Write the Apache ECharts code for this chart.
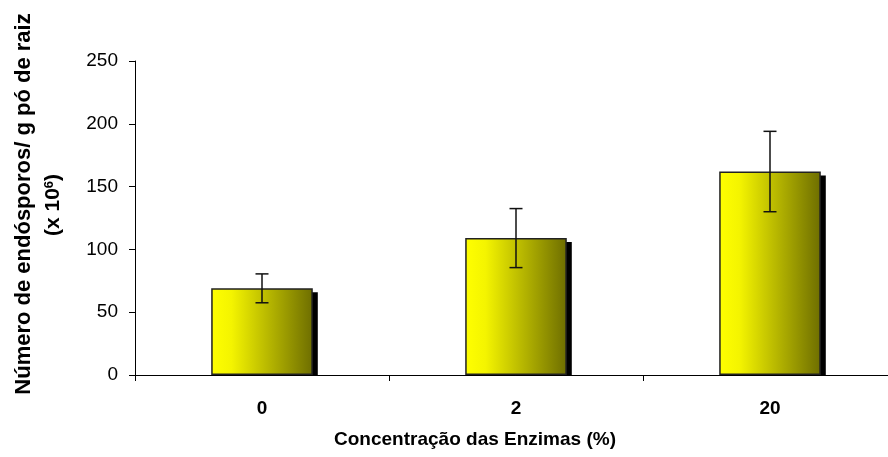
<!DOCTYPE html>
<html>
<head>
<meta charset="utf-8">
<script src="https://cdn.jsdelivr.net/npm/echarts@6/dist/echarts.min.js"></script>
<style>html,body{margin:0;padding:0;background:#fff;overflow:hidden}#c{width:900px;height:457px}</style>
</head>
<body>
<div id="c"></div>
<script>
const categories = ['0', '2', '20'];
const values = [69, 109, 162];
const errors = [11.5, 23.5, 32];
const yTicks = [0, 50, 100, 150, 200, 250];
const yTitle1 = 'Número de endósporos/ g pó de raiz';
const yTitle2 = '(x 10{sup|6})';
const xTitle = 'Concentração das Enzimas (%)';

const chart = echarts.init(document.getElementById('c'), null, {renderer: 'canvas'});
const FONT = '"Liberation Sans", Arial, sans-serif';
const barGrad = new echarts.graphic.LinearGradient(0, 0, 1, 0, [
  {offset: 0, color: '#FFFF00'},
  {offset: 0.2, color: '#F4F400'},
  {offset: 1, color: '#6E6E00'}
]);

chart.setOption({
  animation: false,
  backgroundColor: '#fff',
  grid: {left: 135, top: 61, width: 762, height: 314, containLabel: false},
  xAxis: {
    type: 'category',
    data: categories,
    axisLine: {lineStyle: {color: '#000', width: 1}},
    axisTick: {show: true, length: 6, lineStyle: {color: '#000'}},
    axisLabel: {color: '#000', fontFamily: FONT, fontWeight: 'bold', fontSize: 19, margin: 24}
  },
  yAxis: {
    type: 'value',
    min: yTicks[0],
    max: yTicks[yTicks.length - 1],
    interval: 50,
    splitLine: {show: false},
    axisLine: {show: true, lineStyle: {color: '#000', width: 1}},
    axisTick: {show: true, length: 6, lineStyle: {color: '#000'}},
    axisLabel: {color: '#000', fontFamily: FONT, fontSize: 19, margin: 17}
  },
  graphic: [{
    type: 'text',
    rotation: Math.PI / 2,
    x: 24, y: 204,
    style: {
      text: yTitle1,
      fill: '#000',
      font: 'bold 22px ' + FONT,
      align: 'center',
      verticalAlign: 'middle'
    }
  }, {
    type: 'text',
    rotation: Math.PI / 2,
    x: 53, y: 205,
    style: {
      text: yTitle2,
      fill: '#000',
      font: 'bold 21px ' + FONT,
      align: 'center',
      verticalAlign: 'middle',
      rich: {sup: {fontSize: 13, fontWeight: 'bold', fontFamily: FONT, verticalAlign: 'top', padding: [0, 0, 8, 0]}}
    }
  }, {
    type: 'text',
    x: 475, y: 440,
    style: {
      text: xTitle,
      fill: '#000',
      font: 'bold 19px ' + FONT,
      align: 'center',
      verticalAlign: 'middle'
    }
  }],
  series: [
    {
      type: 'custom',
      z: 1,
      silent: true,
      data: values.map((v, i) => [i, v]),
      renderItem: function (params, api) {
        const top = api.coord([api.value(0), api.value(1)]);
        const base = api.coord([api.value(0), 0]);
        const w = api.size([1, 0])[0] * 0.4;
        return {
          type: 'rect',
          shape: {x: top[0] - w / 2 + 5, y: top[1] + 4, width: w, height: base[1] - top[1] - 4},
          style: {fill: '#000'}
        };
      }
    },
    {
      type: 'bar',
      z: 2,
      data: values,
      barWidth: '40%',
      itemStyle: {color: barGrad, borderColor: '#222', borderWidth: 1.5}
    },
    {
      type: 'custom',
      z: 3,
      silent: true,
      data: values.map((v, i) => [i, v, errors[i]]),
      renderItem: function (params, api) {
        const x = api.value(0), v = api.value(1), e = api.value(2);
        const hi = api.coord([x, v + e]);
        const lo = api.coord([x, v - e]);
        const cap = 6.5;
        const st = {stroke: '#111', lineWidth: 1.5};
        return {
          type: 'group',
          children: [
            {type: 'line', shape: {x1: hi[0], y1: hi[1], x2: lo[0], y2: lo[1]}, style: st},
            {type: 'line', shape: {x1: hi[0] - cap, y1: hi[1], x2: hi[0] + cap, y2: hi[1]}, style: st},
            {type: 'line', shape: {x1: lo[0] - cap, y1: lo[1], x2: lo[0] + cap, y2: lo[1]}, style: st}
          ]
        };
      }
    }
  ]
});
</script>
</body>
</html>
